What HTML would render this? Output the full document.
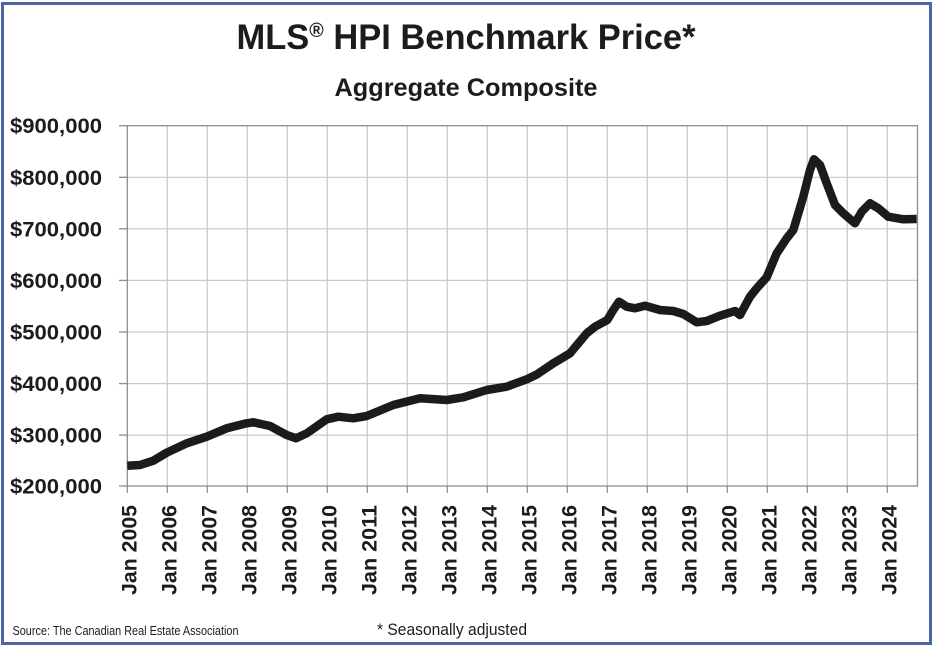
<!DOCTYPE html>
<html>
<head>
<meta charset="utf-8">
<style>
  html, body { margin:0; padding:0; background:#fff; }
  body { width:936px; height:650px; overflow:hidden; }
  svg { display:block; }
  text { font-family:"Liberation Sans", Arial, sans-serif; fill:#1c1c1c; }
</style>
</head>
<body>
<svg width="936" height="650" viewBox="0 0 936 650" xmlns="http://www.w3.org/2000/svg">
  <rect x="0" y="0" width="936" height="650" fill="#ffffff"/>
  <!-- outer frame -->
  <rect x="2.5" y="3.5" width="928" height="640" fill="none" stroke="#4c65a4" stroke-width="3"/>

  <!-- Title -->
  <text x="466" y="49" text-anchor="middle" font-size="35" font-weight="bold" textLength="459" lengthAdjust="spacingAndGlyphs">MLS<tspan font-size="20" dy="-12">®</tspan><tspan dy="12"> HPI Benchmark Price*</tspan></text>
  <text x="466" y="96" text-anchor="middle" font-size="25" font-weight="bold" textLength="263" lengthAdjust="spacingAndGlyphs">Aggregate Composite</text>

  <!-- gridlines -->
  <g stroke="#c9c9c9" stroke-width="1.2">
    <line x1="127.3" y1="177.3" x2="917.5" y2="177.3"/>
    <line x1="127.3" y1="228.8" x2="917.5" y2="228.8"/>
    <line x1="127.3" y1="280.4" x2="917.5" y2="280.4"/>
    <line x1="127.3" y1="332.0" x2="917.5" y2="332.0"/>
    <line x1="127.3" y1="383.6" x2="917.5" y2="383.6"/>
    <line x1="127.3" y1="435.1" x2="917.5" y2="435.1"/>
    <line x1="167.3" y1="125.7" x2="167.3" y2="486"/>
    <line x1="207.3" y1="125.7" x2="207.3" y2="486"/>
    <line x1="247.3" y1="125.7" x2="247.3" y2="486"/>
    <line x1="287.3" y1="125.7" x2="287.3" y2="486"/>
    <line x1="327.3" y1="125.7" x2="327.3" y2="486"/>
    <line x1="367.3" y1="125.7" x2="367.3" y2="486"/>
    <line x1="407.3" y1="125.7" x2="407.3" y2="486"/>
    <line x1="447.3" y1="125.7" x2="447.3" y2="486"/>
    <line x1="487.3" y1="125.7" x2="487.3" y2="486"/>
    <line x1="527.3" y1="125.7" x2="527.3" y2="486"/>
    <line x1="567.3" y1="125.7" x2="567.3" y2="486"/>
    <line x1="607.3" y1="125.7" x2="607.3" y2="486"/>
    <line x1="647.3" y1="125.7" x2="647.3" y2="486"/>
    <line x1="687.3" y1="125.7" x2="687.3" y2="486"/>
    <line x1="727.3" y1="125.7" x2="727.3" y2="486"/>
    <line x1="767.3" y1="125.7" x2="767.3" y2="486"/>
    <line x1="807.3" y1="125.7" x2="807.3" y2="486"/>
    <line x1="847.3" y1="125.7" x2="847.3" y2="486"/>
    <line x1="887.3" y1="125.7" x2="887.3" y2="486"/>
  </g>

  <!-- plot border + ticks -->
  <g stroke="#8e8e8e" stroke-width="1.3" fill="none">
    <rect x="127.3" y="125.7" width="790.2" height="360.3"/>
    <line x1="119" y1="125.7" x2="127.3" y2="125.7"/>
    <line x1="119" y1="177.3" x2="127.3" y2="177.3"/>
    <line x1="119" y1="228.8" x2="127.3" y2="228.8"/>
    <line x1="119" y1="280.4" x2="127.3" y2="280.4"/>
    <line x1="119" y1="332.0" x2="127.3" y2="332.0"/>
    <line x1="119" y1="383.6" x2="127.3" y2="383.6"/>
    <line x1="119" y1="435.1" x2="127.3" y2="435.1"/>
    <line x1="119" y1="486" x2="127.3" y2="486"/>
    <line x1="127.3" y1="486" x2="127.3" y2="493"/>
    <line x1="167.3" y1="486" x2="167.3" y2="493"/>
    <line x1="207.3" y1="486" x2="207.3" y2="493"/>
    <line x1="247.3" y1="486" x2="247.3" y2="493"/>
    <line x1="287.3" y1="486" x2="287.3" y2="493"/>
    <line x1="327.3" y1="486" x2="327.3" y2="493"/>
    <line x1="367.3" y1="486" x2="367.3" y2="493"/>
    <line x1="407.3" y1="486" x2="407.3" y2="493"/>
    <line x1="447.3" y1="486" x2="447.3" y2="493"/>
    <line x1="487.3" y1="486" x2="487.3" y2="493"/>
    <line x1="527.3" y1="486" x2="527.3" y2="493"/>
    <line x1="567.3" y1="486" x2="567.3" y2="493"/>
    <line x1="607.3" y1="486" x2="607.3" y2="493"/>
    <line x1="647.3" y1="486" x2="647.3" y2="493"/>
    <line x1="687.3" y1="486" x2="687.3" y2="493"/>
    <line x1="727.3" y1="486" x2="727.3" y2="493"/>
    <line x1="767.3" y1="486" x2="767.3" y2="493"/>
    <line x1="807.3" y1="486" x2="807.3" y2="493"/>
    <line x1="847.3" y1="486" x2="847.3" y2="493"/>
    <line x1="887.3" y1="486" x2="887.3" y2="493"/>
  </g>

  <!-- Y labels -->
  <g font-size="21.5" font-weight="bold" text-anchor="end">
    <text x="102" y="133.2" textLength="92" lengthAdjust="spacingAndGlyphs">$900,000</text>
    <text x="102" y="184.8" textLength="92" lengthAdjust="spacingAndGlyphs">$800,000</text>
    <text x="102" y="236.3" textLength="92" lengthAdjust="spacingAndGlyphs">$700,000</text>
    <text x="102" y="287.9" textLength="92" lengthAdjust="spacingAndGlyphs">$600,000</text>
    <text x="102" y="339.5" textLength="92" lengthAdjust="spacingAndGlyphs">$500,000</text>
    <text x="102" y="391.1" textLength="92" lengthAdjust="spacingAndGlyphs">$400,000</text>
    <text x="102" y="442.6" textLength="92" lengthAdjust="spacingAndGlyphs">$300,000</text>
    <text x="102" y="493.5" textLength="92" lengthAdjust="spacingAndGlyphs">$200,000</text>
  </g>

  <!-- X labels -->
  <g font-size="21" font-weight="bold" text-anchor="end">
    <text transform="translate(136.3,505) rotate(-90)" textLength="90" lengthAdjust="spacingAndGlyphs">Jan 2005</text>
    <text transform="translate(176.3,505) rotate(-90)" textLength="90" lengthAdjust="spacingAndGlyphs">Jan 2006</text>
    <text transform="translate(216.3,505) rotate(-90)" textLength="90" lengthAdjust="spacingAndGlyphs">Jan 2007</text>
    <text transform="translate(256.3,505) rotate(-90)" textLength="90" lengthAdjust="spacingAndGlyphs">Jan 2008</text>
    <text transform="translate(296.3,505) rotate(-90)" textLength="90" lengthAdjust="spacingAndGlyphs">Jan 2009</text>
    <text transform="translate(336.3,505) rotate(-90)" textLength="90" lengthAdjust="spacingAndGlyphs">Jan 2010</text>
    <text transform="translate(376.3,505) rotate(-90)" textLength="90" lengthAdjust="spacingAndGlyphs">Jan 2011</text>
    <text transform="translate(416.3,505) rotate(-90)" textLength="90" lengthAdjust="spacingAndGlyphs">Jan 2012</text>
    <text transform="translate(456.3,505) rotate(-90)" textLength="90" lengthAdjust="spacingAndGlyphs">Jan 2013</text>
    <text transform="translate(496.3,505) rotate(-90)" textLength="90" lengthAdjust="spacingAndGlyphs">Jan 2014</text>
    <text transform="translate(536.3,505) rotate(-90)" textLength="90" lengthAdjust="spacingAndGlyphs">Jan 2015</text>
    <text transform="translate(576.3,505) rotate(-90)" textLength="90" lengthAdjust="spacingAndGlyphs">Jan 2016</text>
    <text transform="translate(616.3,505) rotate(-90)" textLength="90" lengthAdjust="spacingAndGlyphs">Jan 2017</text>
    <text transform="translate(656.3,505) rotate(-90)" textLength="90" lengthAdjust="spacingAndGlyphs">Jan 2018</text>
    <text transform="translate(696.3,505) rotate(-90)" textLength="90" lengthAdjust="spacingAndGlyphs">Jan 2019</text>
    <text transform="translate(736.3,505) rotate(-90)" textLength="90" lengthAdjust="spacingAndGlyphs">Jan 2020</text>
    <text transform="translate(776.3,505) rotate(-90)" textLength="90" lengthAdjust="spacingAndGlyphs">Jan 2021</text>
    <text transform="translate(816.3,505) rotate(-90)" textLength="90" lengthAdjust="spacingAndGlyphs">Jan 2022</text>
    <text transform="translate(856.3,505) rotate(-90)" textLength="90" lengthAdjust="spacingAndGlyphs">Jan 2023</text>
    <text transform="translate(896.3,505) rotate(-90)" textLength="90" lengthAdjust="spacingAndGlyphs">Jan 2024</text>
  </g>

  <!-- data line -->
  <polyline fill="none" stroke="#1b1b1b" stroke-width="8.5" stroke-linejoin="round" stroke-linecap="butt"
    points="127.3,465.7 140,465 153.3,460.7 166.7,452.7 186.7,443.3 206.7,436.7 226.7,428.3 246.7,423.3 253.3,422.3 270,426 286.7,435 296,438.3 306.7,433.3 326.7,419.3 338.3,416.7 353.3,418.3 366.7,416 393.3,405 420,398.3 446.7,400 463.3,397.3 486.7,390 506.7,386.7 526.7,379.3 536.7,374.5 553.3,363.3 570,353.3 586.7,333.3 595,326.7 607.3,320 613.3,310 619,301.7 626.7,306.7 635,308.3 645,305.7 660,310 673.3,311 683.3,314 696.7,322.3 706.7,321 720,315.7 735,311 740,315 750,296.7 756.7,288.3 766.7,277.3 776.7,253.3 786.7,238.3 793.3,230 803.3,196.7 810,170 814,159.3 820,165 826.7,183.3 835,205 843.3,213.3 855,223.3 861.7,211.7 870,203.3 878.3,208.3 888.3,216.7 903.3,219.3 916.7,219"/>

  <!-- footer texts -->
  <text x="12.5" y="635" font-size="12.5" textLength="226" lengthAdjust="spacingAndGlyphs">Source: The Canadian Real Estate Association</text>
  <text x="377" y="635" font-size="16.5" textLength="150" lengthAdjust="spacingAndGlyphs">* Seasonally adjusted</text>
</svg>
</body>
</html>
